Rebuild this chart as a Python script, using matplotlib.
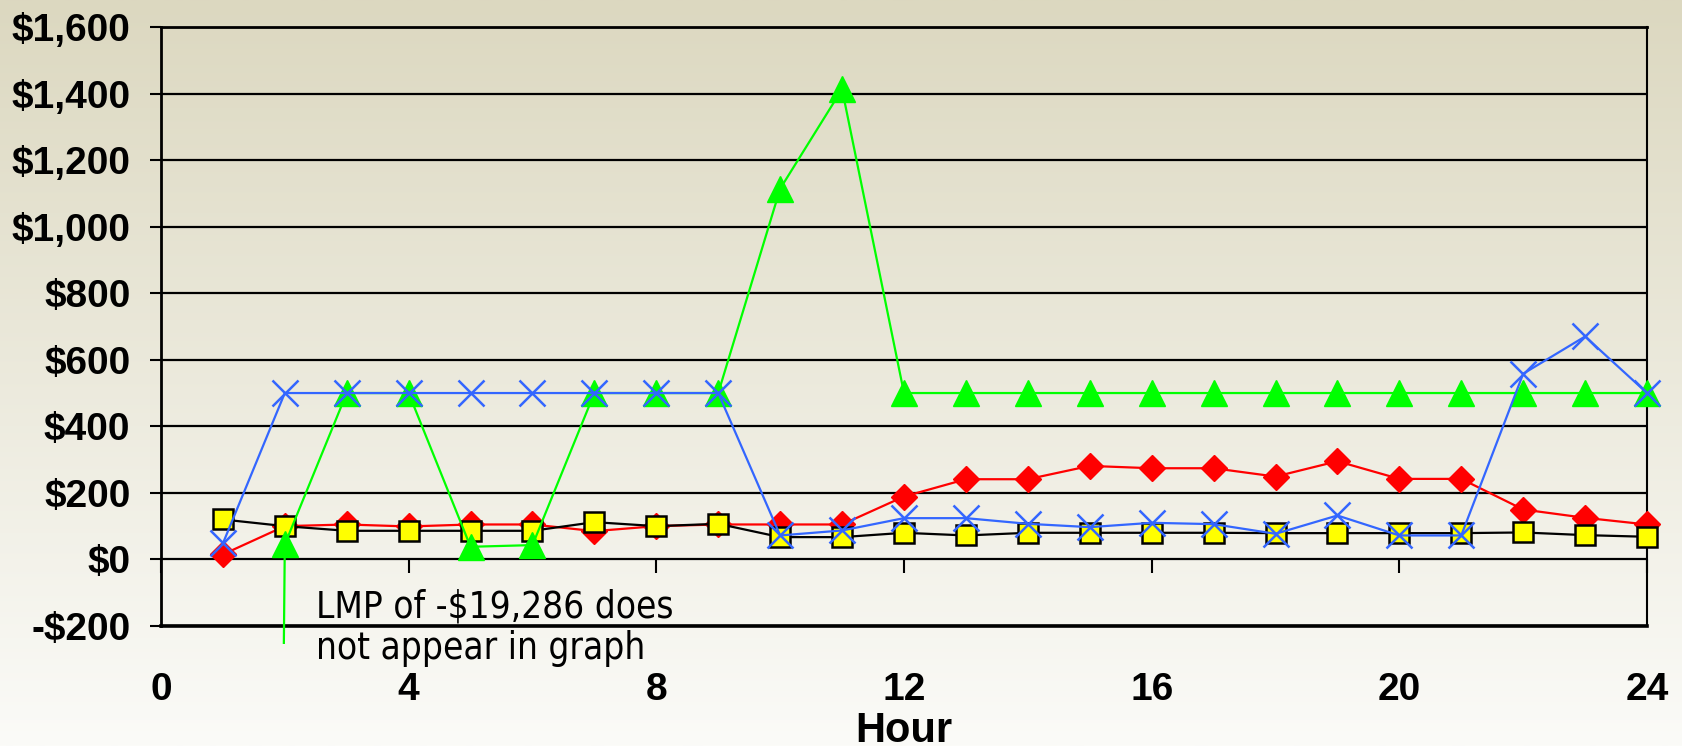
import matplotlib
matplotlib.use("Agg")

import matplotlib.pyplot as plt
import numpy as np
from matplotlib.ticker import FuncFormatter, MultipleLocator
from matplotlib.transforms import Bbox, TransformedBbox


# ---------------------------------------------------------
# Datos (LMP por hora)
# ---------------------------------------------------------

hours = list(range(1, 25))

lmp_red = [15, 100, 105, 99, 105, 105, 85, 100, 105, 105, 105, 189,
           241, 241, 281, 274, 274, 249, 295, 242, 242, 150, 125, 105]

lmp_yellow = [120, 100, 86, 86, 86, 86, 112, 100, 107, 67, 67, 80,
              72, 80, 80, 80, 80, 79, 79, 79, 79, 81, 73, 68]

# la hora 1 es -$19,286 y queda fuera del grafico
lmp_green = [-19286, 45, 500, 500, 38, 43, 500, 500, 500, 1114, 1413, 500,
             500, 500, 500, 500, 500, 500, 500, 500, 500, 500, 500, 500]

lmp_blue = [48, 500, 500, 500, 500, 500, 500, 500, 500, 72, 87, 124,
            124, 107, 97, 110, 106, 77, 132, 72, 72, 558, 670, 500]

x_ticks = [0, 4, 8, 12, 16, 20, 24]
y_min, y_max = -200, 1600

note = "LMP of -$19,286 does\nnot appear in graph"


# ---------------------------------------------------------
# Figura
# ---------------------------------------------------------

plt.rcParams["font.family"] = ["Liberation Sans", "DejaVu Sans"]

fig = plt.figure(figsize=(16.82, 7.46), dpi=100)

# fondo degradado
bg = fig.add_axes([0, 0, 1, 1], zorder=-10)
top_col = np.array([220, 216, 192]) / 255
bot_col = np.array([251, 251, 248]) / 255
t = np.linspace(0, 1, 256).reshape(-1, 1, 1)
grad = top_col * (1 - t) + bot_col * t
bg.imshow(grad, aspect="auto", extent=[0, 1, 0, 1])
bg.axis("off")

ax = fig.add_axes([0.0957, 0.1609, 0.8835, 0.8029])
ax.patch.set_alpha(0)

ax.plot(hours, lmp_red, color="#ff0000", lw=1.6, marker="D",
        markersize=13.5, markerfacecolor="#ff0000",
        markeredgecolor="#ff0000", clip_on=False, zorder=3)

ax.plot(hours, lmp_yellow, color="black", lw=1.6, marker="s",
        markersize=15, markerfacecolor="#ffff00", markeredgecolor="black",
        markeredgewidth=1.8, clip_on=False, zorder=4)

green_line, = ax.plot(hours, lmp_green, color="#00ff00", lw=1.6,
                      marker="^", markersize=19,
                      markerfacecolor="#00ff00",
                      markeredgecolor="#00ff00", zorder=5)
green_line.set_clip_path(None)
green_line.set_clip_box(
    TransformedBbox(Bbox([[-0.03, -0.03], [1.03, 1.03]]), ax.transAxes)
)

ax.plot(hours, lmp_blue, color="#3366ff", lw=1.6, marker="x",
        markersize=18.5, markeredgewidth=1.8, clip_on=False, zorder=6)

# ejes
ax.set_xlim(0, 24)
ax.set_ylim(y_min, y_max)
ax.yaxis.set_major_locator(MultipleLocator(200))
ax.yaxis.set_major_formatter(
    FuncFormatter(lambda v, p: f"-${abs(v):,.0f}" if v < 0 else f"${v:,.0f}")
)
ax.set_xticks(x_ticks)

ax.yaxis.grid(True, color="black", lw=1.6)
ax.set_axisbelow(True)

# las marcas del eje x van sobre la linea de $0
ax.spines["bottom"].set_position(("data", 0))
ax.spines["bottom"].set_visible(False)
ax.plot([0, 1], [0, 0], transform=ax.transAxes, color="black", lw=2.6,
        clip_on=False, zorder=2)

ax.spines["top"].set_linewidth(2)
ax.spines["left"].set_linewidth(2)
ax.spines["right"].set_linewidth(1.5)

ax.tick_params(axis="x", direction="out", length=10, width=1.5,
               pad=71, labelsize=28)
ax.tick_params(axis="y", direction="out", length=8, width=1.5,
               pad=14, labelsize=28)
for lab in ax.get_xticklabels() + ax.get_yticklabels():
    lab.set_fontweight("bold")

ax.set_xlabel("Hour", fontsize=30, fontweight="bold", labelpad=2)

ax.text(2.5, -206, note, fontsize=26.5, family="DejaVu Sans",
        fontstretch="condensed", va="center", ha="left", clip_on=False,
        linespacing=1.15)

plt.savefig("out.png", dpi=100)
plt.close()
